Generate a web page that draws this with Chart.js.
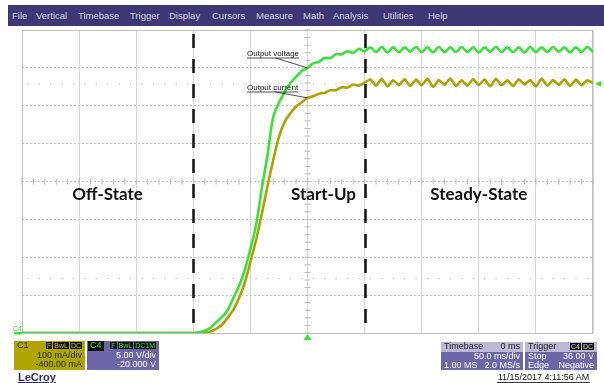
<!DOCTYPE html>
<html>
<head>
<meta charset="utf-8">
<script src="https://cdn.jsdelivr.net/npm/chart.js@4.4.1/dist/chart.umd.min.js"></script>
<style>
  body { margin: 0; background: #fff; }
  #wrap { position: relative; width: 604px; height: 383px; overflow: hidden; font-family: "Liberation Sans", Arial, sans-serif; }
  #scope { position: absolute; left: 0; top: 0; }
  .abs { position: absolute; }
  #menu { left: 8px; top: 5px; width: 596px; height: 21px; background: #3f3773; }
  #menu span { position: absolute; top: 5px; font-size: 9.5px; color: #d4d2e4; }
  .box { position: absolute; font-size: 9px; line-height: 9.5px; }
  .row { position: relative; height: 9.5px; }
  .l { position: absolute; left: 3px; }
  .r { position: absolute; right: 3px; }
  .badge { background: #111; padding: 0 1px; margin-left: 1px; font-size: 7px; }
</style>
</head>
<body>
<div id="wrap">
  <canvas id="scope" width="604" height="383"></canvas>
  <div id="menu" class="abs">
    <span style="left:4px">File</span>
    <span style="left:28px">Vertical</span>
    <span style="left:70px">Timebase</span>
    <span style="left:122px">Trigger</span>
    <span style="left:161px">Display</span>
    <span style="left:204px">Cursors</span>
    <span style="left:248px">Measure</span>
    <span style="left:295px">Math</span>
    <span style="left:325px">Analysis</span>
    <span style="left:375px">Utilities</span>
    <span style="left:420px">Help</span>
  </div>

  <!-- channel boxes -->
  <div class="box" style="left:14px;top:341px;width:71px;height:29px;background:#aea500;color:#2a2a00">
    <div class="row"><span class="l">C1</span><span class="r" style="color:#c9c000"><span class="badge">F</span><span class="badge">BwL</span><span class="badge">DC</span></span></div>
    <div class="row"><span class="r">100 mA/div</span></div>
    <div class="row"><span class="r">-400.00 mA</span></div>
  </div>
  <div class="box" style="left:87px;top:341px;width:72px;height:29px;background:#6d66a6;color:#fff">
    <div class="row"><span class="l" style="left:1px;background:#111;color:#3be03b;padding:0 2px">C4</span><span class="r" style="color:#3be03b"><span class="badge">F</span><span class="badge">BwL</span><span class="badge">DC1M</span></span></div>
    <div class="row"><span class="r">5.00 V/div</span></div>
    <div class="row"><span class="r">-20.000 V</span></div>
  </div>
  <div class="abs" style="left:18px;top:371px;font-size:11px;color:#2c2c66;text-decoration:underline;font-weight:bold">LeCroy</div>

  <div class="box" style="left:441px;top:342px;width:82px;height:28px;background:#6d66a6;color:#fff">
    <div class="row" style="background:#bcb8d6;color:#222"><span class="l">Timebase</span><span class="r">0 ms</span></div>
    <div class="row"><span class="r">50.0 ms/div</span></div>
    <div class="row"><span class="l">1.00 MS</span><span class="r">2.0 MS/s</span></div>
  </div>
  <div class="box" style="left:525px;top:342px;width:72px;height:28px;background:#6d66a6;color:#fff">
    <div class="row" style="background:#bcb8d6;color:#222"><span class="l">Trigger</span><span class="r" style="color:#ddd"><span class="badge">C4</span><span class="badge">DC</span></span></div>
    <div class="row"><span class="l">Stop</span><span class="r">36.00 V</span></div>
    <div class="row"><span class="l">Edge</span><span class="r">Negative</span></div>
  </div>
  <div class="abs" style="left:497px;top:372px;width:93px;font-size:9px;color:#111;border-bottom:1px solid #333;text-align:center">11/15/2017 4:11:56 AM</div>
</div>

<script>
// time axis in ms (50 ms/div, trigger at centre)
const timeMs = [
  -250, -245, -240, -235, -230, -225, -220, -215, -210, -205,
  -200, -195, -190, -185, -180, -175, -170, -165, -160, -155,
  -150, -145, -140, -135, -130, -125, -120, -115, -110, -105,
  -100, -95, -90, -85, -80, -75, -70, -65, -60, -55,
  -50, -45, -40, -35, -30, -25, -20, -15, -10, -5,
  0, 5, 10, 15, 20, 25, 30, 35, 40, 45,
  50, 55, 60, 65, 70, 75, 80, 85, 90, 95,
  100, 105, 110, 115, 120, 125, 130, 135, 140, 145,
  150, 155, 160, 165, 170, 175, 180, 185, 190, 195,
  200, 205, 210, 215, 220, 225, 230, 235, 240, 245,
  250
];

// C4 output voltage, V (5 V/div, -20 V offset)
const voltage = [
  0, 0, 0, 0, 0, 0, 0, 0, 0, 0,
  0, 0, 0, 0, 0, 0, 0, 0, 0, 0,
  0, 0, 0, 0, 0, 0, 0, 0, 0, 0,
  0, 0.1, 0.3, 0.7, 1.4, 2.1, 3.0, 4.6, 6.2, 8.3,
  11.1, 14.3, 19.1, 23.5, 28.5, 30.4, 31.8, 33.0, 33.8, 34.6,
  35.0, 35.6, 35.8, 36.3, 36.3, 36.8, 36.8, 37.2, 37.0, 37.5,
  37.2, 37.7, 37.1, 37.75, 37.05, 37.7, 37.1, 37.7, 37.15, 37.75,
  37.1, 37.7, 37.05, 37.75, 37.1, 37.7, 37.1, 37.75, 37.1, 37.7,
  37.05, 37.7, 37.15, 37.75, 37.1, 37.7, 37.1, 37.7, 37.05, 37.75,
  37.1, 37.7, 37.1, 37.75, 37.15, 37.7, 37.05, 37.7, 37.1, 37.75,
  37.1
];

// C1 output current, mA (100 mA/div, -400 mA offset)
const current = [
  0, 0, 0, 0, 0, 0, 0, 0, 0, 0,
  0, 0, 0, 0, 0, 0, 0, 0, 0, 0,
  0, 0, 0, 0, 0, 0, 0, 0, 0, 0,
  0, 0, 1, 4, 11, 21, 40, 61, 92, 132,
  187, 246, 314, 388, 457, 518, 557, 580, 598, 609,
  621, 625, 632, 634, 641, 641, 649, 648, 656, 653,
  661, 669, 653, 671, 651, 667, 655, 670, 652, 669,
  654, 671, 650, 668, 655, 672, 652, 667, 653, 670,
  655, 669, 651, 671, 654, 667, 652, 670, 656, 668,
  651, 672, 653, 668, 655, 670, 652, 669, 654, 667,
  660
];

// region markers and labels
const dividers = [-100, 50];
const regionLabels = ['Off-State', 'Start-Up', 'Steady-State'];
const regionLabelAt = [-175, 14, 150];

const GREEN = '#3be03b';
const OLIVE = '#aba100';

const scopeDecor = {
  id: 'scopeDecor',
  beforeDatasetsDraw(chart) {
    const { ctx, chartArea: a, scales: { x, y } } = chart;
    ctx.save();
    // faint dotted rows
    ctx.fillStyle = '#c8c8c8';
    [7.2, 32.9].forEach(v => {
      const py = y.getPixelForValue(v);
      for (let t = -245; t < 250; t += 10) {
        ctx.fillRect(x.getPixelForValue(t) - 0.5, py - 0.5, 1.3, 1.3);
      }
    });
    // centre axes with minor ticks
    const cx = x.getPixelForValue(0), cy = y.getPixelForValue(20);
    ctx.strokeStyle = '#b8b8b8';
    ctx.lineWidth = 1;
    ctx.beginPath();
    for (let v = 0; v <= 40; v += 1) {
      const py = y.getPixelForValue(v);
      ctx.moveTo(cx - 3, py); ctx.lineTo(cx + 3, py);
    }
    for (let t = -250; t <= 250; t += 10) {
      const px = x.getPixelForValue(t);
      ctx.moveTo(px, cy - 3); ctx.lineTo(px, cy + 3);
    }
    ctx.stroke();
    // frame
    ctx.strokeStyle = '#bdbdbd';
    ctx.strokeRect(a.left + 0.5, a.top + 0.5, a.right - a.left - 1, a.bottom - a.top);
    ctx.restore();
  },
  afterDraw(chart) {
    const { ctx, chartArea: a, scales: { x, y, y1 } } = chart;
    ctx.save();
    // dashed region dividers
    ctx.strokeStyle = '#111';
    ctx.lineWidth = 2.5;
    ctx.setLineDash([14, 11]);
    dividers.forEach(t => {
      const px = Math.round(x.getPixelForValue(t)) + 0.5;
      ctx.beginPath();
      ctx.moveTo(px, a.top + 4);
      ctx.lineTo(px, a.bottom);
      ctx.stroke();
    });
    ctx.setLineDash([]);

    // region labels
    ctx.fillStyle = '#111';
    ctx.font = 'bold 17px Lato';
    ctx.textAlign = 'center';
    ctx.textBaseline = 'middle';
    regionLabels.forEach((s, i) => {
      ctx.fillText(s, x.getPixelForValue(regionLabelAt[i]), y.getPixelForValue(20) + 13);
    });

    // trace callouts, leaders end on the traces at t = 0
    ctx.font = '8px "Liberation Sans"';
    ctx.textAlign = 'left';
    ctx.textBaseline = 'alphabetic';
    ctx.lineWidth = 0.8;
    ctx.strokeStyle = '#222';
    const i0 = timeMs.indexOf(0);
    const callouts = [
      { text: 'Output voltage', ty: 56, py: y.getPixelForValue(voltage[i0]) },
      { text: 'Output current', ty: 90, py: y1.getPixelForValue(current[i0]) }
    ];
    callouts.forEach(c => {
      const w = ctx.measureText(c.text).width;
      const tx = 247;
      ctx.fillText(c.text, tx, c.ty);
      ctx.beginPath();
      ctx.moveTo(tx, c.ty + 2); ctx.lineTo(tx + w, c.ty + 2);
      ctx.moveTo(tx + w * 0.55, c.ty + 2);
      ctx.lineTo(x.getPixelForValue(0), c.py);
      ctx.stroke();
    });

    // trigger markers
    ctx.fillStyle = GREEN;
    const tx0 = x.getPixelForValue(0);
    ctx.beginPath();
    ctx.moveTo(tx0, a.bottom + 1); ctx.lineTo(tx0 - 4, a.bottom + 7); ctx.lineTo(tx0 + 4, a.bottom + 7);
    ctx.fill();
    const ly = y.getPixelForValue(32.9);
    ctx.beginPath();
    ctx.moveTo(a.right + 2, ly); ctx.lineTo(a.right + 8, ly - 3); ctx.lineTo(a.right + 8, ly + 3);
    ctx.fill();

    // ground marker for C4
    ctx.font = '7px "Liberation Sans"';
    ctx.fillText('C4', 13, a.bottom - 2);
    ctx.fillRect(14, a.bottom - 1, a.left - 14, 2.5);
    ctx.restore();
  }
};

const ctx = document.getElementById('scope');
new Chart(ctx, {
  type: 'line',
  data: {
    datasets: [
      {
        label: 'Output voltage',
        data: timeMs.map((t, i) => ({ x: t, y: voltage[i] })),
        yAxisID: 'y',
        borderColor: GREEN,
        borderWidth: 2.6,
        pointRadius: 0,
        tension: 0.4
      },
      {
        label: 'Output current',
        data: timeMs.map((t, i) => ({ x: t, y: current[i] })),
        yAxisID: 'y1',
        borderColor: OLIVE,
        borderWidth: 2.6,
        pointRadius: 0,
        tension: 0.15
      }
    ]
  },
  options: {
    responsive: false,
    animation: false,
    layout: { padding: { left: 22, right: 11, top: 30, bottom: 50 } },
    plugins: { legend: { display: false }, tooltip: { enabled: false } },
    scales: {
      x: {
        type: 'linear', min: -250, max: 250,
        ticks: { display: false, stepSize: 50 },
        grid: { color: '#d6d6d6', drawTicks: false },
        border: { display: false }
      },
      y: {
        min: 0, max: 40,
        ticks: { display: false, stepSize: 5 },
        grid: { color: '#c4c4c4', drawTicks: false },
        border: { display: false, dash: [2, 2] }
      },
      y1: { display: false, min: 0, max: 800 }
    }
  },
  plugins: [scopeDecor]
});
</script>
</body>
</html>
